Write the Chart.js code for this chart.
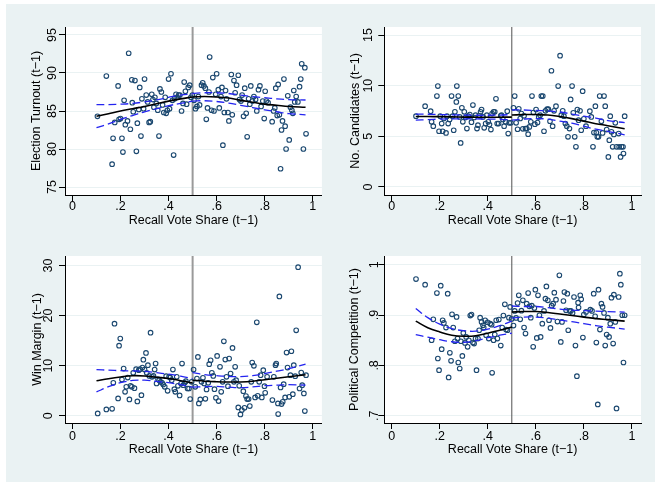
<!DOCTYPE html>
<html><head><meta charset="utf-8">
<script src="https://cdn.jsdelivr.net/npm/chart.js@4/dist/chart.umd.min.js"></script>
<style>
html,body{margin:0;padding:0;background:#fff;width:655px;height:482px;overflow:hidden;}
#bg{position:absolute;left:6px;top:4px;width:649px;height:478px;background:#EAF2F3;}
canvas{position:absolute;}
</style></head><body>
<div id="bg"></div>
<canvas id="c1" width="327" height="240" style="left:0px;top:0px;width:327px;height:240px"></canvas>
<canvas id="c2" width="328" height="240" style="left:327px;top:0px;width:328px;height:240px"></canvas>
<canvas id="c3" width="327" height="242" style="left:0px;top:240px;width:327px;height:242px"></canvas>
<canvas id="c4" width="328" height="242" style="left:327px;top:240px;width:328px;height:242px"></canvas>
<script>
// ---------- shared ----------
const xTicks = [0, 0.2, 0.4, 0.6, 0.8, 1];
const xTickLabels = ["0", ".2", ".4", ".6", ".8", "1"];
const xTitle = "Recall Vote Share (t\u22121)";
const cutoff = 0.5;
const fitXL = [0.10, 0.15, 0.20, 0.25, 0.30, 0.35, 0.40, 0.45, 0.50];
const fitXR = [0.50, 0.55, 0.60, 0.65, 0.70, 0.75, 0.80, 0.85, 0.90, 0.97];

// ---------- panel 1: Election Turnout ----------
const p1Title = "Election Turnout (t\u22121)";
const p1YTicks = [75, 80, 85, 90, 95];
const p1YTickLabels = ["75", "80", "85", "90", "95"];
const p1X = [0.104,0.141,0.169,0.165,0.176,0.19,0.194,0.2,0.206,0.21,0.215,0.22,0.229,0.234,0.241,0.247,0.249,0.253,0.26,0.266,0.27,0.276,0.28,0.285,0.289,0.296,0.3,0.307,0.313,0.319,0.324,0.33,0.335,0.339,0.343,0.349,0.355,0.36,0.364,0.37,0.375,0.38,0.386,0.39,0.395,0.4,0.404,0.41,0.416,0.421,0.425,0.431,0.436,0.442,0.447,0.454,0.46,0.465,0.47,0.475,0.482,0.488,0.493,0.499,0.506,0.512,0.518,0.524,0.529,0.537,0.542,0.547,0.553,0.557,0.562,0.568,0.571,0.579,0.584,0.589,0.596,0.6,0.607,0.611,0.618,0.622,0.626,0.632,0.637,0.641,0.647,0.651,0.661,0.665,0.672,0.677,0.683,0.69,0.695,0.701,0.706,0.712,0.717,0.723,0.727,0.733,0.738,0.742,0.749,0.755,0.762,0.767,0.774,0.78,0.785,0.792,0.798,0.802,0.807,0.814,0.831,0.837,0.842,0.846,0.852,0.856,0.861,0.866,0.87,0.874,0.88,0.885,0.889,0.896,0.902,0.907,0.913,0.917,0.921,0.925,0.931,0.938,0.945,0.95,0.954,0.961,0.967,0.972];
const p1Y = [84.3,89.6,81.4,78.0,83.5,88.3,83.9,84.0,81.4,79.6,86.4,83.2,83.7,92.6,82.6,89.1,86.1,84.9,89.0,79.7,83.4,85.2,88.1,81.7,86.6,85.3,89.2,87.1,86.2,83.5,83.6,87.2,86.5,85.5,86.8,86.0,85.1,81.7,87.9,87.5,85.8,84.8,86.8,84.7,85.1,89.2,85.3,89.9,86.4,79.2,86.6,87.2,86.8,87.1,87.1,85.0,86.0,88.8,87.6,85.9,88.1,88.4,86.8,87.1,86.4,85.3,85.6,86.9,85.8,88.4,88.7,88.3,88.0,83.9,85.4,87.5,92.1,85.1,89.4,85.0,87.2,89.9,87.8,85.4,86.9,88.1,80.5,84.8,87.7,86.6,84.8,83.7,89.8,84.5,89.0,87.4,88.4,89.7,86.5,86.3,87.1,84.3,88.0,84.7,81.6,86.6,85.9,88.3,86.3,86.9,86.5,85.0,87.8,88.3,85.6,86.3,84.0,87.6,86.3,86.1,83.6,85.0,85.4,88.0,84.4,88.5,84.5,77.4,82.5,83.7,89.2,83.0,80.0,87.0,81.2,85.5,85.1,84.7,87.7,86.2,86.9,86.2,88.2,89.2,91.2,80.0,90.7,82.0];
const p1FitL = [84.3, 84.65, 85.0, 85.3, 85.6, 85.95, 86.3, 86.6, 86.85];
const p1FitR = [86.85, 86.9, 86.85, 86.7, 86.4, 86.15, 85.9, 85.75, 85.6, 85.5];
const p1HiL = [85.85, 85.85, 85.9, 86.0, 86.2, 86.45, 86.8, 87.1, 87.25];
const p1LoL = [82.8, 83.3, 83.9, 84.4, 84.9, 85.3, 85.7, 86.0, 86.3];
const p1HiR = [87.3, 87.4, 87.4, 87.3, 87.1, 86.9, 86.75, 86.6, 86.5, 86.45];
const p1LoR = [86.3, 86.35, 86.25, 86.05, 85.75, 85.45, 85.15, 84.9, 84.65, 84.5];

// ---------- panel 2: No. Candidates ----------
const p2Title = "No. Candidates (t\u22121)";
const p2YTicks = [0, 5, 10, 15];
const p2YTickLabels = ["0", "5", "10", "15"];
const p2X = [0.101,0.139,0.162,0.166,0.173,0.188,0.192,0.197,0.202,0.208,0.212,0.217,0.226,0.23,0.235,0.241,0.249,0.253,0.258,0.263,0.269,0.271,0.277,0.283,0.287,0.292,0.296,0.302,0.307,0.313,0.319,0.325,0.332,0.338,0.343,0.349,0.355,0.359,0.365,0.37,0.374,0.38,0.385,0.391,0.396,0.402,0.407,0.413,0.418,0.424,0.429,0.434,0.439,0.445,0.454,0.457,0.463,0.468,0.474,0.481,0.485,0.489,0.496,0.507,0.512,0.518,0.524,0.529,0.535,0.54,0.546,0.551,0.557,0.562,0.568,0.573,0.579,0.584,0.59,0.596,0.601,0.607,0.612,0.618,0.623,0.629,0.634,0.64,0.647,0.652,0.659,0.665,0.67,0.676,0.684,0.693,0.701,0.706,0.712,0.717,0.723,0.729,0.734,0.74,0.745,0.751,0.756,0.762,0.767,0.773,0.778,0.784,0.789,0.795,0.8,0.809,0.825,0.831,0.838,0.842,0.848,0.852,0.856,0.861,0.866,0.873,0.878,0.884,0.889,0.895,0.902,0.906,0.91,0.915,0.92,0.925,0.931,0.936,0.945,0.947,0.953,0.957,0.963,0.965,0.97];
const p2Y = [6.99,7.98,7.48,6.43,6.0,8.97,9.96,5.5,6.99,6.26,5.5,6.76,5.34,6.99,6.26,6.66,8.97,6.99,5.6,7.42,8.4,9.96,8.97,6.92,4.35,7.81,6.43,7.42,6.86,5.77,6.99,7.15,6.4,8.08,6.86,7.09,5.77,6.1,7.02,7.42,7.65,6.92,5.84,6.26,7.09,6.43,6.16,5.67,7.25,7.42,7.42,8.7,6.26,6.26,7.02,7.09,6.66,6.0,6.43,7.48,5.27,6.33,6.33,7.81,8.97,6.33,5.7,7.71,6.76,7.25,5.74,7.02,5.77,5.77,5.21,5.93,6.43,8.97,7.35,6.2,7.65,6.36,6.92,7.09,8.97,8.97,5.5,7.52,7.68,7.68,6.49,11.47,6.0,7.52,7.98,9.96,12.96,7.09,7.52,6.99,6.26,6.0,4.95,5.77,8.64,9.96,7.32,4.95,3.96,7.65,6.59,7.52,5.6,9.46,6.73,6.0,7.48,6.92,3.96,5.37,7.98,5.37,4.95,4.95,8.97,6.49,5.34,8.97,7.98,5.67,2.97,4.62,6.99,5.44,3.96,5.18,6.33,3.96,5.27,3.96,2.97,3.96,3.96,3.3,6.99];
const p2FitL = [6.95, 6.95, 6.94, 6.92, 6.9, 6.89, 6.88, 6.89, 6.9];
const p2FitR = [7.1, 7.15, 7.15, 7.1, 6.95, 6.75, 6.5, 6.25, 6.05, 5.75];
const p2HiL = [7.2, 7.18, 7.15, 7.12, 7.1, 7.08, 7.08, 7.1, 7.15];
const p2LoL = [6.6, 6.65, 6.7, 6.72, 6.72, 6.72, 6.7, 6.68, 6.62];
const p2HiR = [7.6, 7.6, 7.55, 7.5, 7.4, 7.2, 7.0, 6.8, 6.55, 6.35];
const p2LoR = [6.6, 6.7, 6.75, 6.7, 6.5, 6.3, 6.0, 5.7, 5.5, 5.15];

// ---------- panel 3: Win Margin ----------
const p3Title = "Win Margin (t\u22121)";
const p3YTicks = [0, 10, 20, 30];
const p3YTickLabels = ["0", "10", "20", "30"];
const p3X = [0.105,0.141,0.165,0.17,0.175,0.19,0.194,0.199,0.206,0.213,0.219,0.224,0.23,0.237,0.242,0.247,0.253,0.258,0.265,0.27,0.276,0.281,0.287,0.291,0.295,0.3,0.306,0.309,0.314,0.32,0.325,0.331,0.337,0.342,0.346,0.35,0.356,0.361,0.367,0.373,0.378,0.384,0.39,0.396,0.402,0.407,0.413,0.418,0.424,0.428,0.434,0.439,0.446,0.452,0.456,0.461,0.467,0.472,0.479,0.485,0.49,0.496,0.504,0.511,0.518,0.522,0.526,0.532,0.537,0.543,0.548,0.553,0.558,0.565,0.569,0.575,0.58,0.586,0.591,0.597,0.602,0.608,0.614,0.619,0.625,0.63,0.636,0.641,0.647,0.652,0.658,0.666,0.672,0.677,0.681,0.69,0.694,0.699,0.705,0.711,0.716,0.722,0.727,0.733,0.738,0.744,0.748,0.755,0.76,0.767,0.771,0.777,0.783,0.788,0.794,0.799,0.802,0.81,0.832,0.838,0.845,0.848,0.855,0.856,0.861,0.866,0.87,0.875,0.879,0.885,0.891,0.895,0.902,0.907,0.911,0.917,0.921,0.927,0.931,0.939,0.945,0.952,0.956,0.963,0.967,0.972];
const p3Y = [0.46,1.26,1.39,6.57,18.38,3.45,14.0,15.4,7.23,9.42,4.78,5.77,7.63,3.25,5.97,5.77,8.56,5.51,9.29,2.85,9.09,9.29,4.11,9.62,11.2,9.22,12.54,8.56,10.09,7.96,16.59,7.77,7.96,9.22,10.42,6.44,7.3,7.1,6.77,6.57,6.24,5.77,7.9,4.98,7.77,7.63,7.1,9.22,5.31,4.78,7.77,5.97,4.05,6.44,10.42,6.1,6.57,6.9,5.44,5.44,3.32,6.77,9.22,5.77,7.43,11.75,2.46,3.25,6.77,7.57,6.44,3.38,5.24,6.57,10.29,11.08,8.56,7.96,5.31,3.58,11.95,2.92,9.76,4.78,6.77,14.87,11.22,7.77,5.91,11.42,8.43,13.54,6.77,9.76,7.1,1.66,5.97,0.27,1.13,4.91,1.59,3.92,3.32,3.32,1.92,6.77,10.62,9.96,3.65,18.65,3.98,6.77,8.1,3.65,9.09,5.91,4.58,7.77,3.12,7.77,10.09,10.42,2.46,0.33,23.83,5.64,2.32,2.79,6.31,3.65,12.61,9.62,3.78,8.1,12.88,4.31,10.09,7.9,17.06,29.67,5.44,8.63,6.1,4.45,0.93,8.1];
const p3FitL = [6.97, 7.4, 7.75, 8.0, 7.95, 7.7, 7.45, 7.0, 6.55];
const p3FitR = [7.1, 6.9, 6.8, 6.75, 6.75, 6.9, 7.2, 7.5, 7.8, 8.2];
const p3HiL = [9.2, 9.1, 9.0, 8.95, 8.85, 8.6, 8.3, 7.9, 7.4];
const p3LoL = [4.75, 5.8, 6.6, 7.05, 7.1, 6.85, 6.6, 6.2, 5.7];
const p3HiR = [8.6, 8.2, 8.0, 7.85, 7.8, 8.0, 8.4, 8.9, 9.4, 10.3];
const p3LoR = [5.7, 5.8, 5.85, 5.7, 5.6, 5.75, 6.0, 6.1, 6.2, 6.1];

// ---------- panel 4: Political Competition ----------
const p4Title = "Political Competition (t\u22121)";
const p4YTicks = [0.7, 0.8, 0.9, 1];
const p4YTickLabels = [".7", ".8", ".9", "1"];
const p4X = [0.101,0.139,0.166,0.173,0.188,0.192,0.197,0.204,0.208,0.212,0.217,0.226,0.233,0.237,0.242,0.247,0.251,0.256,0.263,0.27,0.274,0.277,0.283,0.288,0.294,0.298,0.305,0.31,0.316,0.321,0.327,0.332,0.338,0.343,0.349,0.353,0.359,0.364,0.368,0.374,0.38,0.383,0.389,0.393,0.399,0.404,0.41,0.416,0.418,0.424,0.429,0.435,0.44,0.446,0.454,0.46,0.465,0.471,0.476,0.482,0.488,0.493,0.499,0.507,0.512,0.518,0.524,0.529,0.535,0.54,0.546,0.551,0.557,0.562,0.568,0.573,0.579,0.583,0.589,0.594,0.598,0.604,0.609,0.615,0.62,0.627,0.634,0.64,0.644,0.65,0.655,0.661,0.666,0.672,0.677,0.684,0.69,0.698,0.704,0.709,0.715,0.719,0.726,0.731,0.735,0.741,0.746,0.753,0.759,0.765,0.771,0.776,0.778,0.785,0.789,0.796,0.8,0.809,0.827,0.834,0.841,0.847,0.852,0.858,0.861,0.867,0.873,0.878,0.884,0.889,0.895,0.9,0.905,0.91,0.915,0.922,0.925,0.931,0.936,0.945,0.95,0.954,0.96,0.965,0.97];
const p4Y = [0.9716,0.9604,0.850,0.8916,0.9438,0.8137,0.7905,0.9584,0.8322,0.8897,0.8844,0.8751,0.9425,0.776,0.8249,0.809,0.9015,0.8751,0.848,0.8963,0.8533,0.8057,0.7938,0.848,0.8189,0.8645,0.8447,0.8566,0.8368,0.85,0.8989,0.9009,0.8454,0.8434,0.8533,0.7905,0.8533,0.8698,0.8949,0.8863,0.8797,0.8751,0.8897,0.8599,0.8857,0.8533,0.883,0.881,0.7852,0.85,0.8612,0.8897,0.8533,0.891,0.8394,0.8751,0.8989,0.9214,0.8711,0.8698,0.8949,0.9161,0.8923,0.8791,0.9082,0.8943,0.924,0.9392,0.8916,0.9088,0.9293,0.8751,0.8632,0.9227,0.9438,0.9174,0.8949,0.9187,0.8368,0.9141,0.9504,0.8546,0.9392,0.8996,0.8566,0.883,0.9082,0.9326,0.957,0.9293,0.8897,0.8745,0.9187,0.9227,0.9445,0.9306,0.887,0.9789,0.8467,0.8863,0.928,0.9458,0.9095,0.9425,0.8698,0.9082,0.9082,0.9042,0.9359,0.8394,0.7786,0.9247,0.9148,0.9392,0.9313,0.8553,0.9009,0.9062,0.9108,0.9082,0.9425,0.8976,0.8454,0.7225,0.9504,0.8711,0.9227,0.9161,0.9042,0.8394,0.8612,0.8949,0.8566,0.883,0.9346,0.8434,0.9405,0.8863,0.7145,0.9359,0.9822,0.9604,0.8996,0.8057,0.8996];
const p4FitL = [0.888, 0.875, 0.8665, 0.86, 0.858, 0.859, 0.864, 0.87, 0.876];
const p4FitR = [0.906, 0.907, 0.907, 0.905, 0.902, 0.899, 0.896, 0.893, 0.891, 0.888];
const p4HiL = [0.913, 0.895, 0.882, 0.873, 0.869, 0.868, 0.872, 0.879, 0.888];
const p4LoL = [0.861, 0.856, 0.851, 0.847, 0.846, 0.849, 0.855, 0.86, 0.864];
const p4HiR = [0.918, 0.917, 0.917, 0.915, 0.912, 0.910, 0.909, 0.908, 0.907, 0.906];
const p4LoR = [0.894, 0.896, 0.896, 0.894, 0.890, 0.887, 0.883, 0.879, 0.876, 0.872];

// ---------- drawing ----------
const FONT = "'Liberation Sans', Arial, Helvetica, sans-serif";
const FSIZE = 12.5;
const pts = (xs, ys) => xs.map((x, i) => ({x: x, y: ys[i]}));
const plotBg = {id: 'plotBg', beforeDraw(chart) {
  const {ctx, chartArea: a} = chart;
  ctx.save(); ctx.fillStyle = '#ffffff';
  ctx.fillRect(a.left, a.top, a.right - a.left, a.bottom - a.top);
  ctx.restore();
}};

function makePanel(cfg) {
  const line = (data, color, width, dash) => ({
    type: 'scatter', data: data, showLine: true, pointRadius: 0, pointHoverRadius: 0,
    borderColor: color, borderWidth: width, borderDash: dash || [], tension: 0.4,
    backgroundColor: 'transparent', fill: false
  });
  const ci = '#2424f0';
  const datasets = [
    line(pts(fitXL, cfg.fitL), '#000000', 1.6),
    line(pts(fitXR, cfg.fitR), '#000000', 1.6),
    line(pts(fitXL, cfg.hiL), ci, 1.3, [8, 4]),
    line(pts(fitXL, cfg.loL), ci, 1.3, [8, 4]),
    line(pts(fitXR, cfg.hiR), ci, 1.3, [8, 4]),
    line(pts(fitXR, cfg.loR), ci, 1.3, [8, 4]),
    {type: 'scatter', data: pts(cfg.xs, cfg.ys), pointRadius: 2.3, pointBorderWidth: 1.1,
     borderWidth: 1.1, borderColor: '#1a476f', backgroundColor: 'rgba(0,0,0,0)', pointStyle: 'circle'},
    line([{x: cutoff, y: cfg.yMin}, {x: cutoff, y: cfg.yMax}], cfg.vColor, cfg.vWidth)
  ];
  datasets[datasets.length - 1].tension = 0;
  const a = cfg.area;
  const font = {family: FONT, size: FSIZE, lineHeight: 1.2};
  new Chart(document.getElementById(cfg.id), {
    type: 'scatter',
    data: {datasets: datasets},
    plugins: [plotBg],
    options: {
      responsive: false, animation: false, devicePixelRatio: 1,
      layout: {padding: {left: 0, top: a.t, right: cfg.W - a.r, bottom: 0}},
      plugins: {legend: {display: false}, tooltip: {enabled: false}},
      scales: {
        x: {
          type: 'linear', min: -0.031, max: 1.038,
          afterFit: s => { s.height = cfg.H - a.b; },
          afterBuildTicks: s => { s.ticks = xTicks.map(v => ({value: v})); },
          grid: {drawOnChartArea: false, drawTicks: true, tickLength: 6, tickColor: '#000', tickWidth: 1},
          border: {display: true, color: '#000', width: 1},
          ticks: {color: '#000', font: font, padding: cfg.xTickPad,
                  maxRotation: 0, minRotation: 0, autoSkip: false,
                  callback: (v, i) => xTickLabels[xTicks.indexOf(v)] ?? ''},
          title: {display: true, text: xTitle, color: '#000', font: font,
                  padding: {top: 0, bottom: cfg.xTitlePad}}
        },
        y: {
          type: 'linear', min: cfg.yMin, max: cfg.yMax,
          afterFit: s => { s.width = a.l; },
          afterBuildTicks: s => { s.ticks = cfg.yTicks.map(v => ({value: v})); },
          grid: {drawOnChartArea: true, color: '#EAF2F3', lineWidth: 1, drawTicks: true, tickLength: 6, tickColor: '#000', tickWidth: 1},
          border: {display: true, color: '#000', width: 1},
          ticks: {color: '#000', font: font, padding: cfg.yTickPad,
                  minRotation: 90, maxRotation: 90, crossAlign: 'center', autoSkip: false,
                  callback: (v) => { const i = cfg.yTicks.findIndex(t => Math.abs(t - v) < 1e-9); return i >= 0 ? cfg.yLabels[i] : ''; }},
          title: {display: true, text: cfg.title, color: '#000', font: font,
                  padding: {top: cfg.yTitlePad, bottom: 0}}
        }
      }
    }
  });
}

makePanel({id: 'c1', W: 327, H: 240, area: {l: 65, t: 27, r: 323, b: 195},
  yMin: 73.95, yMax: 96.05, yTicks: p1YTicks, yLabels: p1YTickLabels, title: p1Title,
  xs: p1X, ys: p1Y, fitL: p1FitL, fitR: p1FitR, hiL: p1HiL, loL: p1LoL, hiR: p1HiR, loR: p1LoR,
  vColor: '#9a9a9a', vWidth: 2, yTickPad: -0.9, yTitlePad: 29.2, xTickPad: -1.8, xTitlePad: 11.5});
makePanel({id: 'c2', W: 328, H: 240, area: {l: 57.3, t: 27, r: 314, b: 195},
  yMin: -0.79, yMax: 15.79, yTicks: p2YTicks, yLabels: p2YTickLabels, title: p2Title,
  xs: p2X, ys: p2Y, fitL: p2FitL, fitR: p2FitR, hiL: p2HiL, loL: p2LoL, hiR: p2HiR, loR: p2LoR,
  vColor: '#505050', vWidth: 1, yTickPad: 3, yTitlePad: 21.5, xTickPad: -1.8, xTitlePad: 11.5});
makePanel({id: 'c3', W: 327, H: 242, area: {l: 65, t: 16, r: 323, b: 183},
  yMin: -1.45, yMax: 31.9, yTicks: p3YTicks, yLabels: p3YTickLabels, title: p3Title,
  xs: p3X, ys: p3Y, fitL: p3FitL, fitR: p3FitR, hiL: p3HiL, loL: p3LoL, hiR: p3HiR, loR: p3LoR,
  vColor: '#9a9a9a', vWidth: 2, yTickPad: 3.7, yTitlePad: 29.8, xTickPad: 0, xTitlePad: 24.5});
makePanel({id: 'c4', W: 328, H: 242, area: {l: 57.3, t: 16, r: 314, b: 183},
  yMin: 0.6855, yMax: 1.0174, yTicks: p4YTicks, yLabels: p4YTickLabels, title: p4Title,
  xs: p4X, ys: p4Y, fitL: p4FitL, fitR: p4FitR, hiL: p4HiL, loL: p4LoL, hiR: p4HiR, loR: p4LoR,
  vColor: '#505050', vWidth: 1, yTickPad: -1.9, yTitlePad: 20.5, xTickPad: 0, xTitlePad: 24.5});
</script>
</body></html>
